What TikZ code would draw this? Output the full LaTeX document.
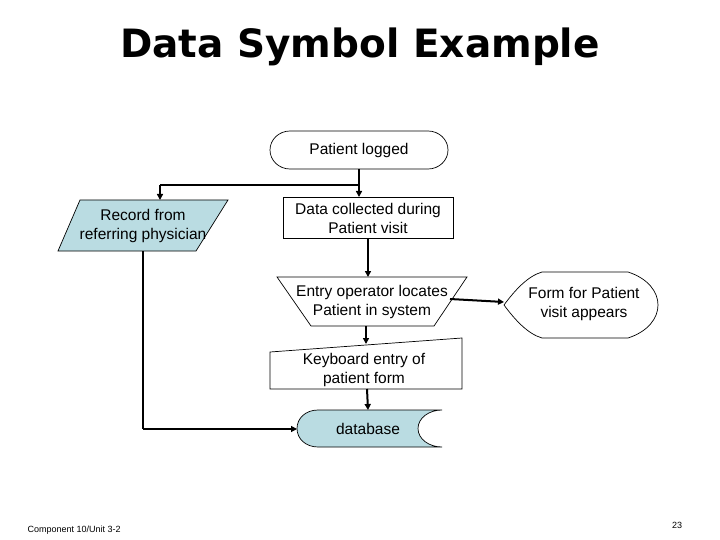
\documentclass[tikz,border=0pt]{standalone}
\usepackage{fontspec}
\setmainfont{Liberation Sans}
\newfontfamily\titlefont{DejaVu Sans}
\usetikzlibrary{arrows.meta}
\definecolor{teal1}{RGB}{186,220,226}
\begin{document}
\begin{tikzpicture}[x=1pt,y=-1pt,
  shp/.style={draw=black,line width=0.7pt},
  lbl/.style={align=center,font=\fontsize{15.5}{19}\selectfont},
  arr/.style={line width=2pt,-{Triangle[length=6pt,width=6pt]}},
  thin arr/.style={line width=1.2pt,-{Triangle[length=6pt,width=6pt]}}]
\useasboundingbox (0,0) rectangle (720,540);
\node[font=\titlefont\bfseries\fontsize{39}{46}\selectfont] (title) at (360,47) {Data Symbol Example};
% terminal
\draw[shp] (290,131) -- (428,131) .. controls (439,131) and (448,139.5) .. (448,150) .. controls (448,160.5) and (439,169) .. (428,169) -- (290,169) .. controls (279,169) and (270,160.5) .. (270,150) .. controls (270,139.5) and (279,131) .. (290,131) -- cycle;
\node[lbl] (logged) at (359,150) {Patient logged};
% parallelogram
\draw[shp,fill=teal1] (80,200) -- (228,200) -- (196,251) -- (58,251) -- cycle;
\node[lbl] (record) at (143,226) {Record from\\referring physician};
% rect
\draw[shp] (283,197) rectangle (453,238);
\node[lbl] (collect) at (368,218) {Data collected during\\Patient visit};
% trapezoid
\draw[shp] (277,277) -- (467,277) -- (434,326) -- (311,326) -- cycle;
\node[lbl] (entry) at (372,302) {Entry operator locates\\Patient in system};
% display
\draw[shp] (504,305) .. controls (515,290) and (528,276) .. (542,272) -- (628,272) .. controls (668,285) and (668,325) .. (628,338) -- (542,338) .. controls (528,334) and (515,320) .. (504,305) -- cycle;
\node[lbl] (form) at (584,304) {Form for Patient\\visit appears};
% manual input
\draw[shp] (270,352) -- (462,338) -- (462,389) -- (270,389) -- cycle;
\node[lbl] (keyb) at (364,370) {Keyboard entry of\\patient form};
% database
\draw[shp,fill=teal1] (318,410) -- (442,410) .. controls (429,410) and (418,418) .. (418,428.5) .. controls (418,439) and (429,447) .. (442,447) -- (318,447) .. controls (306,447) and (297,439) .. (297,428.5) .. controls (297,418) and (306,410) .. (318,410) -- cycle;
\node[lbl] (db) at (368,429) {database};
% connectors
\coordinate (br) at (359,185);
\coordinate (bl) at (160,185);
\coordinate (lc) at (143,429);
\draw[arr] (359,169) -- (359,197);
\draw[line width=2pt] (br) -- (bl);
\draw[arr] (bl) -- (160,200);
\draw[arr] (368,238) -- (368,277);
\draw[arr] (450,299) -- (504,302);
\draw[arr] (366,326) -- (366,344);
\draw[arr] (367,389) -- (368,410);
\draw[line width=1.2pt] (143,251) -- (lc);
\draw[thin arr] (lc) -- (297,429);
% footer
\node[anchor=west,font=\fontsize{9}{11}\selectfont] (foot) at (24,530) {Component 10/Unit 3-2};
\node[font=\fontsize{9}{11}\selectfont] (page) at (677,525) {23};
\end{tikzpicture}
\end{document}
